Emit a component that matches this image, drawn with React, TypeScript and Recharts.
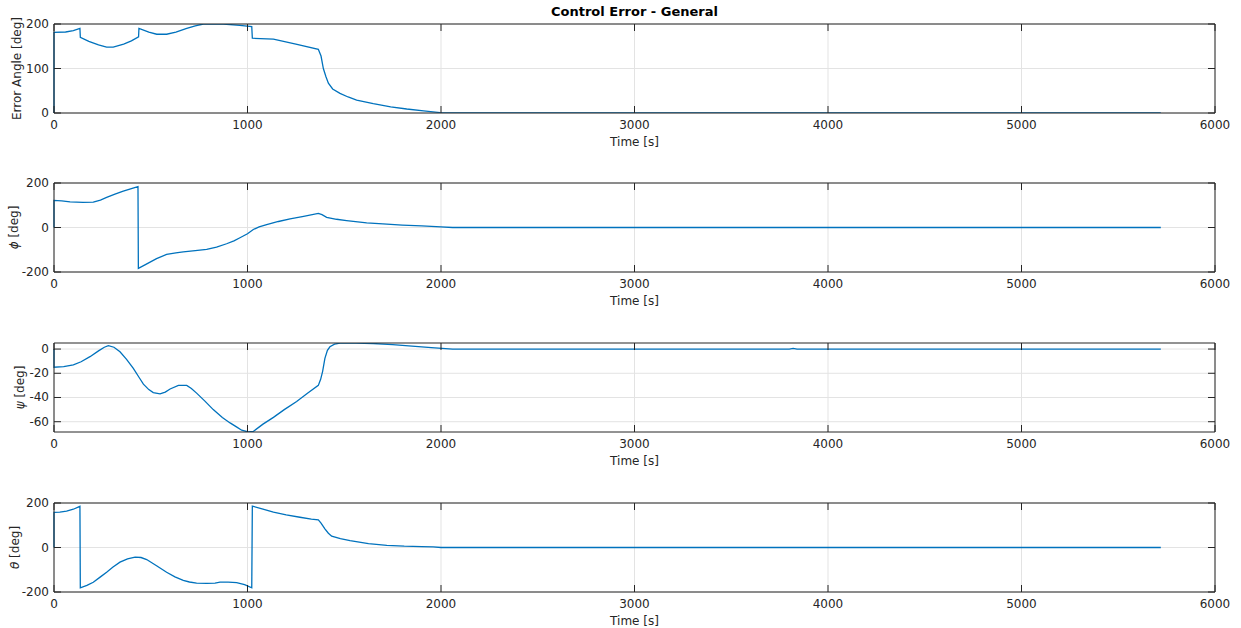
import { LineChart, Line, XAxis, YAxis, CartesianGrid } from "recharts";

// time axis
const timeTicks = [0, 1000, 2000, 3000, 4000, 5000, 6000];

// Error Angle [deg]
const errTime = [0, 0, 60, 100, 134, 136, 180, 230, 272, 306, 360, 400, 437, 439, 490, 531, 582, 630, 686, 730, 772, 875, 960, 1022, 1025, 1134, 1250, 1366, 1380, 1392, 1405, 1418, 1440, 1478, 1520, 1564, 1650, 1740, 1823, 1910, 1995, 2060, 5720];
const errAngle = [0, 181, 182, 185, 190, 170, 161, 153, 148, 148, 155, 162, 171, 190, 182, 177, 177, 182, 190, 196, 200, 200, 197, 194, 168, 166, 155, 143, 128, 100, 82, 67, 54, 44, 36, 29, 21, 14, 9, 5, 1, 0, 0];

// phi [deg]
const phiTime = [0, 0, 40, 83, 150, 203, 240, 272, 315, 358, 400, 434, 436, 470, 530, 582, 630, 668, 730, 789, 840, 892, 930, 961, 1000, 1030, 1060, 1099, 1160, 1220, 1290, 1366, 1385, 1409, 1460, 1512, 1616, 1700, 1800, 1900, 2000, 2060, 5720];
const phiDeg = [0, 122, 120, 115, 113, 114, 123, 135, 150, 163, 175, 184, -184, -168, -140, -121, -114, -110, -104, -98, -88, -73, -60, -46, -28, -9, 3, 13, 27, 39, 50, 63, 58, 46, 37, 31, 21, 16, 11, 7, 3, 0, 0];

// psi [deg]
const psiTime = [0, 0, 50, 100, 140, 186, 230, 260, 281, 310, 341, 375, 410, 440, 462, 490, 513, 548, 575, 600, 643, 686, 710, 737, 780, 823, 870, 910, 945, 970, 1004, 1030, 1080, 1134, 1190, 1254, 1310, 1366, 1378, 1388, 1400, 1413, 1426, 1450, 1478, 1560, 1650, 1750, 1850, 1950, 2060, 3800, 3820, 3840, 5720];
const psiDeg = [0, -15, -14.5, -13, -10.5, -6.3, -1.5, 1.5, 2.8, 1.5, -2.2, -8.5, -16, -23.5, -29, -33.5, -36, -37, -35.5, -33, -30, -30, -32.5, -36.4, -43, -50, -56.5, -61, -64.5, -67, -68.5, -68, -62, -56.4, -50, -43.3, -36.5, -30, -25, -18.6, -7.7, -1, 1.9, 4, 5, 5, 4.6, 3.6, 2.4, 1.2, 0, 0, 0.5, 0, 0];

// theta [deg]
const thetaTime = [0, 0, 30, 65, 100, 134, 136, 170, 203, 240, 272, 305, 341, 380, 419, 450, 479, 530, 582, 625, 668, 700, 737, 790, 832, 858, 900, 944, 985, 1022, 1025, 1080, 1134, 1200, 1271, 1330, 1366, 1380, 1400, 1418, 1435, 1480, 1530, 1625, 1720, 1810, 1900, 1960, 2000, 5720];
const thetaDeg = [0, 158, 159, 163, 172, 185, -181, -170, -156, -132, -111, -88, -66, -51, -43, -45, -54, -82, -111, -132, -148, -155, -160, -161, -160, -156, -156, -158, -167, -181, 186, 172, 159, 147, 136, 128, 124, 110, 84, 64, 51, 40, 31, 17, 10, 6, 4, 3, 0, 0];

const zip = (ts: number[], vs: number[]) => ts.map((t, i) => ({ t, v: vs[i] }));

const FONT = "'DejaVu Sans', sans-serif";
const AXIS = "#262626";
const GRID = "#e3e3e3";
const FS = 12;

const panels = [
  { data: zip(errTime, errAngle), yTicks: [0, 100, 200], yDomain: [0, 200], label: "Error Angle [deg]", sym: "", top: 24, labelX: 17 },
  { data: zip(phiTime, phiDeg), yTicks: [-200, 0, 200], yDomain: [-200, 200], label: " [deg]", sym: "ϕ", top: 183, labelX: 14 },
  { data: zip(psiTime, psiDeg), yTicks: [-60, -40, -20, 0], yDomain: [-68.5, 5], label: " [deg]", sym: "ψ", top: 343, labelX: 20 },
  { data: zip(thetaTime, thetaDeg), yTicks: [-200, 0, 200], yDomain: [-200, 200], label: " [deg]", sym: "θ", top: 503, labelX: 15 },
];

const BottomTick = (props: any) => {
  const { x, y, payload } = props;
  return (
    <g>
      <line x1={x} y1={y} x2={x} y2={y - 7} stroke={AXIS} />
      <text x={x} y={y + 16} textAnchor="middle" fill={AXIS} fontSize={FS} fontFamily={FONT}>
        {payload.value}
      </text>
    </g>
  );
};

const TopTick = (props: any) => {
  const { x, y } = props;
  return <line x1={x} y1={y} x2={x} y2={y + 7} stroke={AXIS} />;
};

const LeftTick = (props: any) => {
  const { x, y, payload } = props;
  return (
    <g>
      <line x1={x} y1={y} x2={x + 7} y2={y} stroke={AXIS} />
      <text x={x - 5} y={y + 4} textAnchor="end" fill={AXIS} fontSize={FS} fontFamily={FONT}>
        {payload.value}
      </text>
    </g>
  );
};

const RightTick = (props: any) => {
  const { x, y } = props;
  return <line x1={x} y1={y} x2={x - 7} y2={y} stroke={AXIS} />;
};

function Panel({ p }: { p: (typeof panels)[number] }) {
  const cy = 10 + 89 / 2;
  return (
    <div style={{ position: "absolute", left: 0, top: p.top - 10 }}>
      <LineChart width={1241} height={139} data={p.data} margin={{ top: 9, right: 25, bottom: 0, left: 0 }}>
        <CartesianGrid xAxisId="b" yAxisId="l" stroke={GRID} horizontalValues={p.yTicks} verticalValues={timeTicks} />
        <XAxis
          xAxisId="b"
          dataKey="t"
          type="number"
          domain={[0, 6000]}
          ticks={timeTicks}
          interval={0}
          height={40}
          stroke={AXIS}
          tickSize={0}
          tickMargin={0}
          tick={<BottomTick />}
          label={{ value: "Time [s]", position: "insideBottom", offset: 7, fill: AXIS, fontSize: FS, fontFamily: FONT }}
        />
        <XAxis
          xAxisId="t"
          orientation="top"
          dataKey="t"
          type="number"
          domain={[0, 6000]}
          ticks={timeTicks}
          interval={0}
          height={1}
          stroke={AXIS}
          tickSize={0}
          tickMargin={0}
          tick={<TopTick />}
        />
        <YAxis
          yAxisId="l"
          type="number"
          domain={p.yDomain}
          ticks={p.yTicks}
          interval={0}
          width={54}
          stroke={AXIS}
          tickSize={0}
          tickMargin={0}
          tick={<LeftTick />}
          allowDataOverflow
        />
        <YAxis
          yAxisId="r"
          orientation="right"
          type="number"
          domain={p.yDomain}
          ticks={p.yTicks}
          interval={0}
          width={1}
          stroke={AXIS}
          tickSize={0}
          tickMargin={0}
          tick={<RightTick />}
          allowDataOverflow
        />
        <Line
          xAxisId="b"
          yAxisId="l"
          dataKey="v"
          type="linear"
          stroke="#0072BD"
          strokeWidth={1.3}
          dot={false}
          isAnimationActive={false}
        />
      </LineChart>
      <svg
        width={30}
        height={139}
        style={{ position: "absolute", left: 0, top: 0, pointerEvents: "none" }}
      >
        <text
          x={p.labelX}
          y={cy}
          transform={`rotate(-90 ${p.labelX} ${cy})`}
          textAnchor="middle"
          dominantBaseline="central"
          fill={AXIS}
          fontSize={FS}
          fontFamily={FONT}
        >
          {p.sym && <tspan fontStyle="italic">{p.sym}</tspan>}
          {p.label}
        </text>
      </svg>
    </div>
  );
}

export default function App() {
  return (
    <div style={{ position: "absolute", left: 0, top: 0, width: 1241, height: 628, background: "#fff" }}>
      <div
        style={{
          position: "absolute",
          left: 54,
          width: 1161,
          top: 4,
          textAlign: "center",
          fontFamily: FONT,
          fontWeight: "bold",
          fontSize: 13,
          color: "#000",
        }}
      >
        Control Error - General
      </div>
      {panels.map((p, i) => (
        <Panel key={i} p={p} />
      ))}
    </div>
  );
}
